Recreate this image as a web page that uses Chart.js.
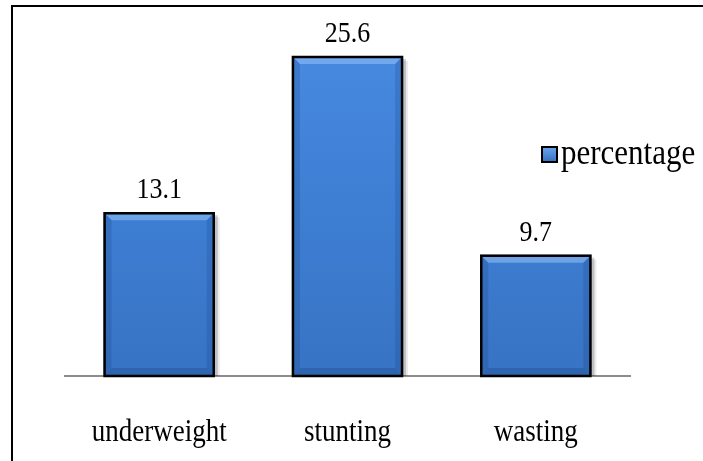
<!DOCTYPE html>
<html>
<head>
<meta charset="utf-8">
<script src="https://cdn.jsdelivr.net/npm/chart.js@4"></script>
<style>
  html, body { margin: 0; padding: 0; background: #fff; }
  #wrap { width: 703px; height: 461px; }
</style>
</head>
<body>
<div id="wrap"><canvas id="c" width="703" height="461"></canvas></div>
<script>
const categories = ['underweight', 'stunting', 'wasting'];
const percentage = [13.1, 25.6, 9.7];
const seriesName = 'percentage';

const SERIF = '"Liberation Serif", "Times New Roman", serif';
const TEXT_STRETCH = 1.17; // text is set a little taller than wide

function barGradient(ctx, top, bottom) {
  const g = ctx.createLinearGradient(0, top, 0, bottom);
  g.addColorStop(0, '#4a8be3');
  g.addColorStop(0.5, '#3e7fd4');
  g.addColorStop(1, '#3873c4');
  return g;
}

// draws text whose baseline sits at y, stretched vertically
function tallText(ctx, text, x, y, size, align) {
  ctx.save();
  ctx.translate(x, y);
  ctx.scale(1, TEXT_STRETCH);
  ctx.font = size + 'px ' + SERIF;
  ctx.textAlign = align;
  ctx.textBaseline = 'alphabetic';
  ctx.fillStyle = '#000';
  ctx.fillText(text, 0, 0);
  ctx.restore();
}

// page frame, bar shading, value labels, category labels and legend
const decorations = {
  id: 'decorations',
  beforeDraw(chart) {
    const ctx = chart.ctx;
    ctx.save();
    ctx.fillStyle = '#fff';
    ctx.fillRect(0, 0, chart.width, chart.height);
    ctx.strokeStyle = '#000';
    ctx.lineWidth = 2;
    ctx.beginPath();
    ctx.moveTo(12, chart.height);
    ctx.lineTo(12, 6);
    ctx.lineTo(chart.width, 6);
    ctx.stroke();
    ctx.restore();
  },
  beforeDatasetsDraw(chart) {
    // soft drop shadow behind each bar
    const ctx = chart.ctx;
    const meta = chart.getDatasetMeta(0);
    ctx.save();
    meta.data.forEach(bar => {
      const l = bar.x - bar.width / 2, t = bar.y;
      ctx.fillStyle = 'rgba(0,0,0,0.18)';
      ctx.fillRect(l + 3, t + 3, bar.width, bar.base - t - 3);
      ctx.fillStyle = 'rgba(0,0,0,0.08)';
      ctx.fillRect(l + 5, t + 5, bar.width, bar.base - t - 5);
    });
    ctx.restore();
  },
  afterDatasetsDraw(chart) {
    const ctx = chart.ctx;
    const meta = chart.getDatasetMeta(0);
    ctx.save();
    meta.data.forEach((bar, i) => {
      const l = bar.x - bar.width / 2, r = bar.x + bar.width / 2;
      const t = bar.y, b = bar.base;
      const e = 8;
      // top bevel
      ctx.fillStyle = 'rgba(150,195,250,0.55)';
      ctx.beginPath();
      ctx.moveTo(l + 2, t + 2); ctx.lineTo(r - 2, t + 2);
      ctx.lineTo(r - e, t + e); ctx.lineTo(l + e, t + e);
      ctx.closePath(); ctx.fill();
      // side bevels
      ctx.fillStyle = 'rgba(20,60,120,0.2)';
      ctx.beginPath();
      ctx.moveTo(l + 2, t + 2); ctx.lineTo(l + e, t + e);
      ctx.lineTo(l + e, b - e); ctx.lineTo(l + 2, b - 1);
      ctx.closePath(); ctx.fill();
      ctx.beginPath();
      ctx.moveTo(r - 2, t + 2); ctx.lineTo(r - e, t + e);
      ctx.lineTo(r - e, b - e); ctx.lineTo(r - 2, b - 1);
      ctx.closePath(); ctx.fill();
      // bottom bevel
      ctx.fillStyle = 'rgba(20,60,120,0.28)';
      ctx.beginPath();
      ctx.moveTo(l + 2, b - 1); ctx.lineTo(l + e, b - e);
      ctx.lineTo(r - e, b - e); ctx.lineTo(r - 2, b - 1);
      ctx.closePath(); ctx.fill();
      // outline
      ctx.strokeStyle = '#000';
      ctx.lineWidth = 2.5;
      ctx.strokeRect(l + 1, t + 1, bar.width - 2, b - t - 1);

      // value label
      tallText(ctx, String(percentage[i]), bar.x, t - 14, 26, 'center');
    });

    // category labels under the axis
    const xs = chart.scales.x;
    chart.data.labels.forEach((lab, i) => {
      tallText(ctx, lab, xs.getPixelForValue(i), 441, 27, 'center');
    });

    // legend
    const lx = 542, ly = 147, s = 15;
    const g = ctx.createLinearGradient(0, ly, 0, ly + s);
    g.addColorStop(0, '#6aa6ee'); g.addColorStop(1, '#3570c0');
    ctx.fillStyle = g;
    ctx.fillRect(lx, ly, s, s);
    ctx.strokeStyle = '#000';
    ctx.lineWidth = 2;
    ctx.strokeRect(lx, ly, s, s);
    tallText(ctx, chart.data.datasets[0].label, lx + s + 4, ly + s + 2, 31, 'left');
    ctx.restore();
  }
};

new Chart(document.getElementById('c'), {
  type: 'bar',
  data: {
    labels: categories,
    datasets: [{
      label: seriesName,
      data: percentage,
      backgroundColor: (c) => {
        const a = c.chart.chartArea;
        if (!a) return '#3e7fd4';
        return barGradient(c.chart.ctx, a.top, a.bottom);
      },
      borderWidth: 0,
      categoryPercentage: 1,
      barPercentage: 0.59
    }]
  },
  options: {
    responsive: false,
    animation: false,
    events: [],
    layout: { padding: { left: 65, right: 73, top: 26, bottom: 0 } },
    plugins: { legend: { display: false }, tooltip: { enabled: false } },
    scales: {
      y: { display: false, min: 0, max: 28 },
      x: {
        afterFit: (s) => { s.height = 85; },
        grid: { display: false, drawTicks: false },
        border: { display: true, color: '#8c8c8c', width: 2 },
        ticks: { display: false }
      }
    }
  },
  plugins: [decorations]
});
</script>
</body>
</html>
